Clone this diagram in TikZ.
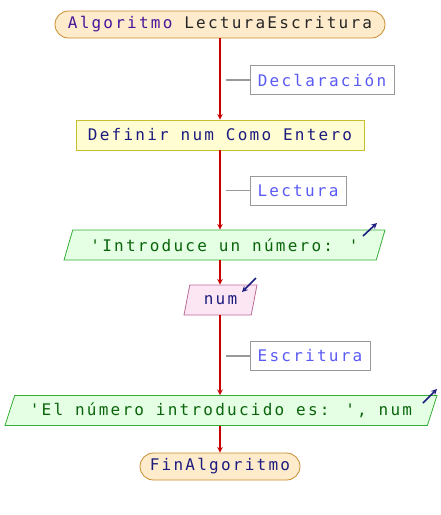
\documentclass[tikz,border=0pt]{standalone}
\usepackage{fontspec}
\usetikzlibrary{shapes.geometric}
\newfontfamily\psfont{DejaVu Sans Mono}[LetterSpace=14]

\definecolor{flujo}{HTML}{C80000}
\definecolor{azul}{HTML}{1C1C80}
\definecolor{verde}{HTML}{0A640A}
\definecolor{coment}{HTML}{5A5AF5}
\definecolor{bordeterm}{HTML}{C88A2A}
\definecolor{fondoterm}{HTML}{FDEBCB}

\begin{document}
\begin{tikzpicture}[x=1pt,y=-1pt,
  every node/.style={font=\psfont\fontsize{16}{18}\selectfont},
  terminal/.style={draw=bordeterm,fill=fondoterm,line width=0.8pt,
    rounded corners=13.5pt,minimum height=27pt},
  proceso/.style={draw=yellow!75!black,fill=yellow!18!white,line width=0.8pt,
    minimum height=30pt},
  entsal/.style={trapezium,trapezium stretches body,draw=green!60!black!80,
    fill=green!10!white,line width=0.8pt,minimum height=30pt,inner xsep=0pt,
    trapezium left angle=66,trapezium right angle=114,text=verde},
  lectura/.style={trapezium,trapezium stretches body,draw=magenta!45!gray,
    fill=magenta!10!white,line width=0.8pt,minimum height=30pt,inner xsep=0pt,
    trapezium left angle=70,trapezium right angle=110,text=azul},
  nota/.style={draw=gray!80,fill=white,line width=0.8pt,text=coment,
    minimum height=29pt},
  flow/.style={line width=1.5pt,-stealth,flujo},
  linea/.style={gray!80,line width=1.5pt},
  icono/.style={line width=1.6pt,-stealth,azul}]
\useasboundingbox (0,0) rectangle (440,515);

% bloques
\node[terminal,minimum width=330pt] at (220,24.5) (inicio)
  {\textcolor{azul!80!magenta}{Algoritmo} \textcolor{black!85}{LecturaEscritura}};
\node[proceso,minimum width=288pt,text=azul] at (220,135) (definir) {Definir num Como Entero};
\node[entsal,minimum width=321pt] at (224.5,245) (lee1) {'Introduce un número: '};
\node[lectura,minimum width=73pt] at (220.5,300) (num) {num};
\node[entsal,minimum width=432pt] at (221,410.5) (escribe) {'El número introducido es: ', num};
\node[terminal,minimum width=160pt,text=azul] at (220,466.5) (fin) {FinAlgoritmo};

% flechas
\draw[flow] (inicio.south) -- (inicio.south |- definir.north);
\draw[flow] (definir.south) -- (definir.south |- lee1.north);
\draw[flow] (definir.south |- lee1.south) -- (definir.south |- num.north);
\draw[flow] (definir.south |- num.south) -- (definir.south |- escribe.north);
\draw[flow] (definir.south |- escribe.south) -- (fin.north);

% comentarios
\node[nota,minimum width=144pt] at (322,80) (decl) {Declaración};
\node[nota,minimum width=96pt] at (298,190.5) (lect) {Lectura};
\node[nota,minimum width=120pt] at (310,356) (escr) {Escritura};
\coordinate (c1) at (226,80);
\coordinate (c2) at (226,190.5);
\coordinate (c3) at (226,356);
\draw[linea] (c1) -- (decl);
\draw[linea] (c2) -- (lect);
\draw[linea] (c3) -- (escr);

% iconos
\coordinate (i1a) at (363,236); \coordinate (i1b) at (377,223);
\coordinate (i2a) at (256,278); \coordinate (i2b) at (242,292);
\coordinate (i3a) at (423,403); \coordinate (i3b) at (437,389);
\draw[icono] (i1a) -- (i1b);
\draw[icono] (i2a) -- (i2b);
\draw[icono] (i3a) -- (i3b);
\end{tikzpicture}
\end{document}
